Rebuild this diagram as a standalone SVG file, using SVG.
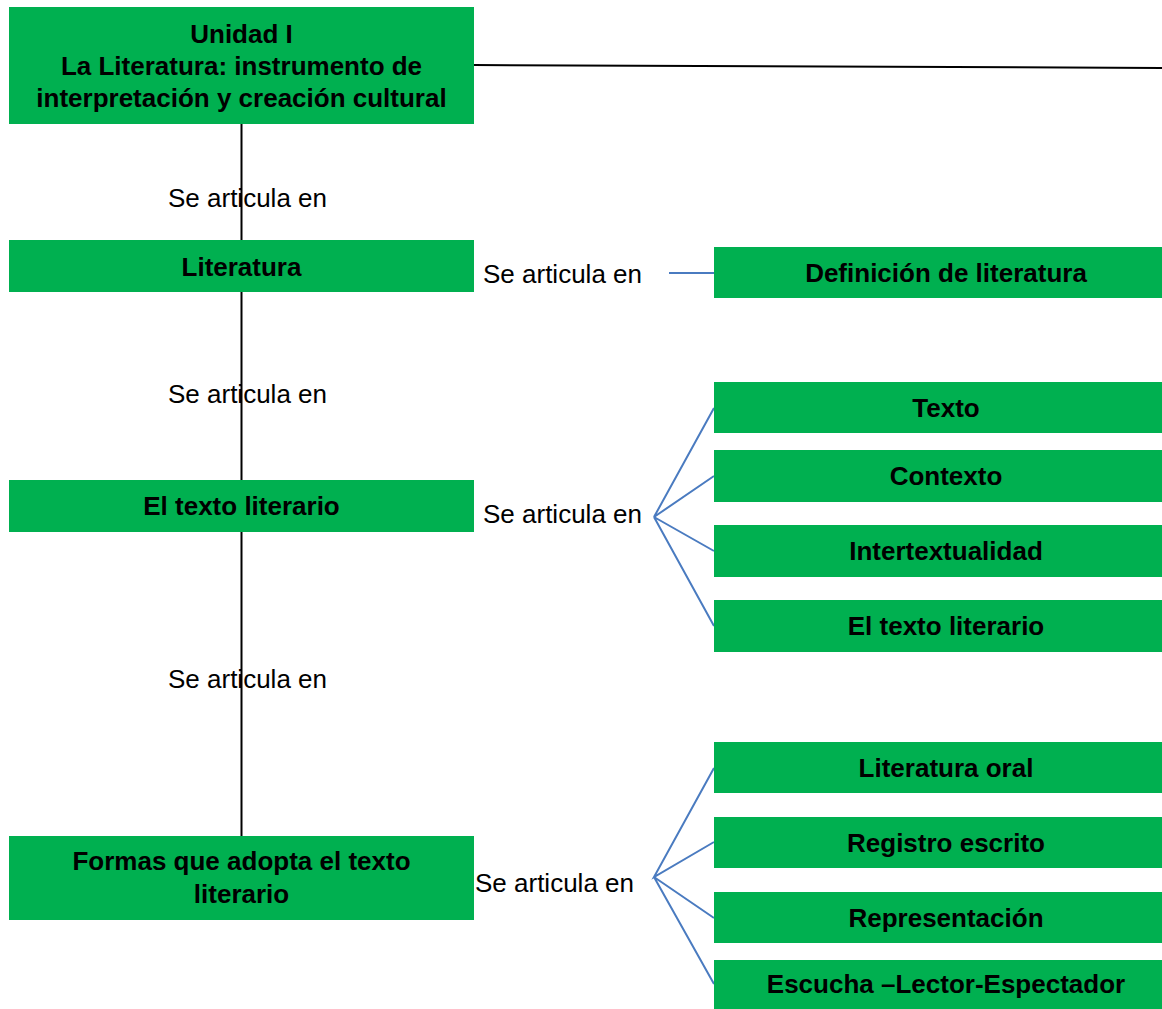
<svg xmlns="http://www.w3.org/2000/svg" width="1162" height="1009" viewBox="0 0 1162 1009">
<style>
.box{fill:#00B050}
.t{font-family:"Liberation Sans",Arial,sans-serif;font-size:26px;font-weight:bold;fill:#000;text-anchor:middle}
.lbl{font-family:"Liberation Sans",Arial,sans-serif;font-size:26px;fill:#000}
.blk{stroke:#000;stroke-width:2;fill:none}
.blu{stroke:#4A7BC0;stroke-width:2;fill:none}
</style>
<rect width="1162" height="1009" fill="#fff"/>
<g id="labels">
<text class="lbl" x="168" y="207">Se articula en</text>
<text class="lbl" x="168" y="403">Se articula en</text>
<text class="lbl" x="168" y="688">Se articula en</text>
<text class="lbl" x="483" y="283">Se articula en</text>
<text class="lbl" x="483" y="523">Se articula en</text>
<text class="lbl" x="475" y="892">Se articula en</text>
</g>
<g id="connectors">
<line class="blk" x1="241.5" y1="124" x2="241.5" y2="836"/>
<line class="blk" x1="474" y1="65" x2="1162" y2="68"/>
<line class="blu" x1="669" y1="273" x2="714" y2="273"/>
<path class="blu" d="M714 408 L654 517 L714 476 M654 517 L714 551 M654 517 L714 626"/>
<path class="blu" d="M714 768 L654 877 L714 842 M654 877 L714 918 M654 877 L714 984"/>
</g>
<g id="n-unidad">
<rect class="box" x="9" y="7" width="465" height="117"/>
<text class="t" x="241.5" y="43">Unidad I</text>
<text class="t" x="241.5" y="75">La Literatura: instrumento de</text>
<text class="t" x="241.5" y="107">interpretación y creación cultural</text>
</g>
<g id="n-literatura">
<rect class="box" x="9" y="240" width="465" height="52"/>
<text class="t" x="241.5" y="275.5">Literatura</text>
</g>
<g id="n-texto-literario">
<rect class="box" x="9" y="480" width="465" height="52"/>
<text class="t" x="241.5" y="515">El texto literario</text>
</g>
<g id="n-formas">
<rect class="box" x="9" y="836" width="465" height="84"/>
<text class="t" x="241.5" y="870">Formas que adopta el texto</text>
<text class="t" x="241.5" y="903">literario</text>
</g>
<g id="n-definicion">
<rect class="box" x="714" y="247" width="465" height="51"/>
<text class="t" x="946" y="282">Definición de literatura</text>
</g>
<g id="n-texto">
<rect class="box" x="714" y="382" width="465" height="51"/>
<text class="t" x="946" y="417">Texto</text>
</g>
<g id="n-contexto">
<rect class="box" x="714" y="450" width="465" height="52"/>
<text class="t" x="946" y="485">Contexto</text>
</g>
<g id="n-intertextualidad">
<rect class="box" x="714" y="525" width="465" height="52"/>
<text class="t" x="946" y="560">Intertextualidad</text>
</g>
<g id="n-el-texto-literario">
<rect class="box" x="714" y="600" width="465" height="52"/>
<text class="t" x="946" y="635">El texto literario</text>
</g>
<g id="n-oral">
<rect class="box" x="714" y="742" width="465" height="51"/>
<text class="t" x="946" y="777">Literatura oral</text>
</g>
<g id="n-escrito">
<rect class="box" x="714" y="817" width="465" height="51"/>
<text class="t" x="946" y="852">Registro escrito</text>
</g>
<g id="n-representacion">
<rect class="box" x="714" y="892" width="465" height="51"/>
<text class="t" x="946" y="927">Representación</text>
</g>
<g id="n-escucha">
<rect class="box" x="714" y="960" width="465" height="49"/>
<text class="t" x="946" y="993">Escucha –Lector-Espectador</text>
</g>
</svg>
